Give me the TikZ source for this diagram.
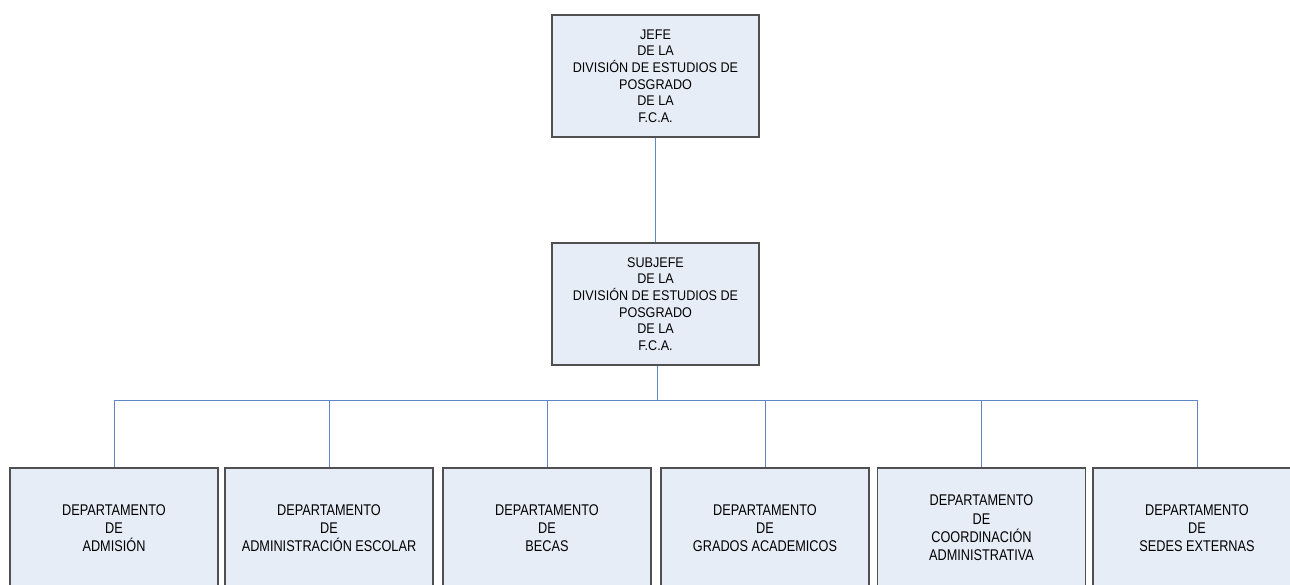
\documentclass[tikz,border=0pt]{standalone}
\usepackage{fontspec}
\setmainfont{Liberation Sans}
\newfontfamily\topfont[FakeStretch=0.9]{Liberation Sans}
\newfontfamily\botfont[FakeStretch=0.82]{Liberation Sans}
\definecolor{boxfill}{RGB}{231,237,247}
\definecolor{boxline}{RGB}{80,80,80}
\definecolor{conn}{RGB}{95,135,200}
\begin{document}
\begin{tikzpicture}[x=1pt,y=-1pt,
  orgbox/.style={draw=boxline,fill=boxfill,line width=1.3pt,align=center,inner sep=2pt},
  headbox/.style={orgbox,minimum width=207pt,minimum height=122pt,
     font=\topfont\fontsize{14}{16.6}\selectfont},
  deptbox/.style={orgbox,minimum width=208pt,minimum height=120pt,
     font=\botfont\fontsize{15.5}{18.3}\selectfont},
  link/.style={draw=conn,line width=1pt}]
\useasboundingbox (0,0) rectangle (1290,584);
\clip (0,0) rectangle (1290,584);
\node[headbox] (jefe) at (655.5,76) {JEFE\\DE LA\\DIVISIÓN DE ESTUDIOS DE\\POSGRADO\\DE LA\\F.C.A.};
\node[headbox] (sub) at (655.5,304) {SUBJEFE\\DE LA\\DIVISIÓN DE ESTUDIOS DE\\POSGRADO\\DE LA\\F.C.A.};
\node[deptbox] (d1) at (114,528) {DEPARTAMENTO\\DE\\ADMISIÓN};
\node[deptbox] (d2) at (329,528) {DEPARTAMENTO\\DE\\ADMINISTRACIÓN ESCOLAR};
\node[deptbox] (d3) at (547,528) {DEPARTAMENTO\\DE\\BECAS};
\node[deptbox] (d4) at (765,528) {DEPARTAMENTO\\DE\\GRADOS ACADEMICOS};
\node[deptbox] (d5) at (981.5,528) {DEPARTAMENTO\\DE\\COORDINACIÓN\\ADMINISTRATIVA};
\node[deptbox] (d6) at (1197,528) {DEPARTAMENTO\\DE\\SEDES EXTERNAS};
\coordinate (bus) at (657,400);
\begin{scope}[on background layer/.try]
\end{scope}
\draw[link] (jefe.south) -- (sub.north);
\draw[link] ([xshift=1.5pt]sub.south) -- ([xshift=1.5pt]sub.south |- bus);
\draw[link] (d1.north |- bus) -- (d6.north |- bus);
\foreach \d in {d1,d2,d3,d4,d5,d6}
  \draw[link] (\d.north |- bus) -- (\d.north);
\end{tikzpicture}
\end{document}
